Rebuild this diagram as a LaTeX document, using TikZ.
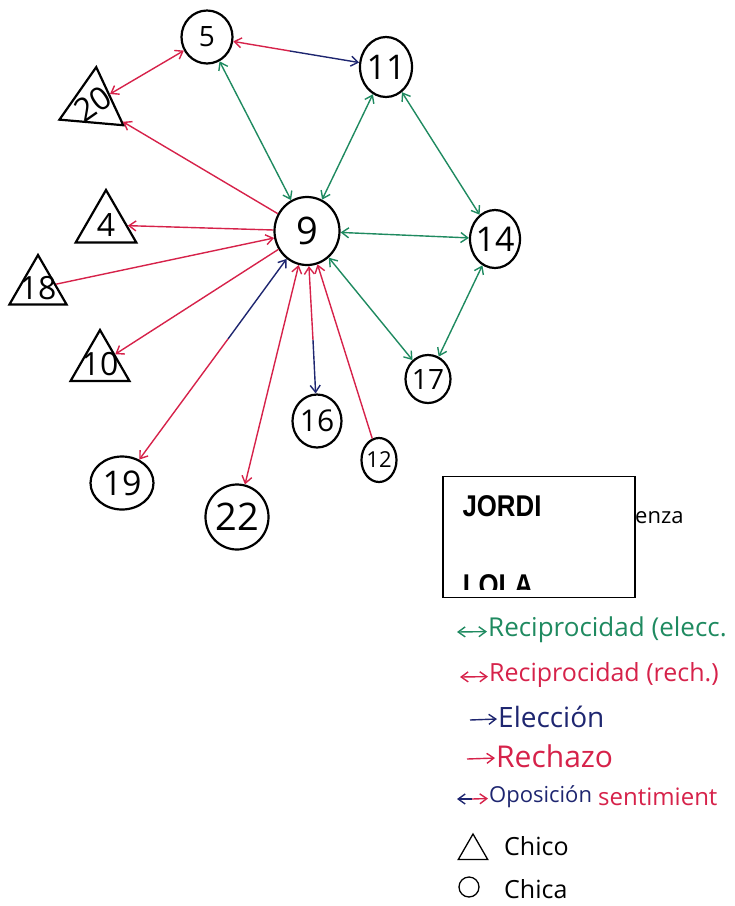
\documentclass[tikz,border=0pt]{standalone}
\usepackage{fontspec}
\setmainfont{Open Sans}
\setsansfont{Liberation Sans}
\usetikzlibrary{arrows.meta,shapes.geometric}

\definecolor{verde}{RGB}{31,138,96}
\definecolor{rojo}{RGB}{214,34,74}
\definecolor{azul}{RGB}{30,38,112}

\newcommand{\fs}[1]{\fontsize{#1}{#1}\selectfont}

\tikzset{
  chica/.style={draw, ellipse, line width=2.2pt, inner sep=-3pt, font=\fs{34}},
  chico/.style={draw, regular polygon, regular polygon sides=3, line width=2.2pt,
    inner sep=-10pt, font=\fs{32}},
  recel/.style={verde, line width=1.4pt, <->},
  recre/.style={rojo, line width=1.4pt, <->},
  elec/.style={azul, line width=1.4pt, ->},
  rech/.style={rojo, line width=1.4pt, ->},
  leyenda/.style={anchor=west, inner sep=1pt},
  nombre/.style={font=\sffamily\bfseries\fs{30}, inner sep=0pt}
}

\begin{document}
\begin{tikzpicture}[x=1pt, y=-1pt, >={Straight Barb[length=7pt,width=10pt]}]
\useasboundingbox (0,0) rectangle (735,906);

% chicas
\node[chica, minimum width=51, minimum height=53, font=\fs{28}] (n5) at (207,37) {5};
\node[chica, minimum width=52, minimum height=60] (n11) at (386,67) {11};
\node[chica, minimum width=65, minimum height=68, font=\fs{38}] (n9) at (307,231) {9};
\node[chica, minimum width=50, minimum height=58] (n14) at (495,239) {14};
\node[chica, minimum width=45, minimum height=48, font=\fs{28}] (n17) at (428,379) {17};
\node[chica, minimum width=49, minimum height=53, font=\fs{30}] (n16) at (317,421) {16};
\node[chica, minimum width=35, minimum height=44, font=\fs{22}] (n12) at (379,460) {12};
\node[chica, minimum width=63, minimum height=53] (n19) at (122,483) {19};
\node[chica, minimum width=63, minimum height=65, font=\fs{38}] (n22) at (237,517) {22};

% chicos
\node[chico, minimum size=74, shape border rotate=-5] (n20) at (93,104) {\rotatebox{35}{20}};
\node[chico, minimum size=70] (n4) at (106,225) {4};
\node[chico, minimum size=66] (n18) at (38,288) {18};
\node[chico, minimum size=68] (n10) at (100,364) {10};

% elecciones reciprocas
\draw[recel] (n9) -- (n5);
\draw[recel] (n9) -- (n11);
\draw[recel] (n11) -- (n14);
\draw[recel] (n9) -- (n14);
\draw[recel] (n14) -- (n17);
\draw[recel] (n9) -- (n17);

% rechazos
\draw[recre] (n5) -- (n20);
\draw[recre] (n9) -- (n22);
\draw[rech] (n9) -- (n20);
\draw[rech] (n9) -- (n4);
\draw[rech] (n9) -- (n10);
\draw[rech] (n18) -- (n9);
\draw[rech] (n12) -- (n9);

% oposiciones: mitad roja, mitad azul
\coordinate (c511) at (290,51);
\draw[rech] (c511) -- (n5);
\draw[elec] (c511) -- (n11);
\coordinate (c919) at (228,339);
\draw[elec] (c919) -- (n9);
\draw[rech] (c919) -- (n19);
\coordinate (c916) at (313,340);
\draw[rech] (c916) -- (n9);
\draw[elec] (c916) -- (n16);

% recuadro
\node[leyenda, font=\fs{22}] (tenza) at (634,518) {enza};
\node[draw, fill=white, line width=1.2pt, minimum width=192, minimum height=121] (caja) at (539,537) {};
\node[nombre] (jordi) at (502,506) {\scalebox{0.86}[1]{JORDI}};
\begin{scope}
\clip (caja.north west) rectangle ([yshift=9pt]caja.south east);
\node[nombre] (lola) at (498,585) {\scalebox{0.86}[1]{LOLA}};
\end{scope}

% leyenda
\coordinate (l1) at (457,632);
\node[leyenda, verde, font=\fs{26}] (t1) at (487,630) {Reciprocidad (elecc.};
\draw[recel] (l1) -- (t1);
\coordinate (l2) at (460,677);
\node[leyenda, rojo, font=\fs{25}] (t2) at (488,675) {Reciprocidad (rech.)};
\draw[recre] (l2) -- (t2);
\coordinate (l3) at (470,720);
\node[leyenda, azul, font=\fs{28}] (t3) at (497,717) {Elección};
\draw[elec] (l3) -- (t3);
\coordinate (l4) at (467,759);
\node[leyenda, rojo, font=\fs{30}] (t4) at (495,756) {Rechazo};
\draw[rech] (l4) -- (t4);
\coordinate (l5) at (457,799);
\coordinate (l5m) at (472,799);
\node[leyenda, azul, font=\fs{22}] (t5) at (488,797) {Oposición};
\node[leyenda, rojo, font=\fs{24}] (t5b) at (597,797) {sentimient};
\draw[elec] (l5m) -- (l5);
\draw[rech] (l5m) -- (t5);
\node[chico, minimum size=34, line width=1.3pt] (lchico) at (473,851) {};
\node[leyenda, font=\fs{25}] (tchico) at (503,846) {Chico};
\node[draw, circle, minimum size=20, line width=1.3pt, inner sep=0pt] (lchica) at (469,887) {};
\node[leyenda, font=\fs{25}] (tchica) at (503,889) {Chica};
\end{tikzpicture}
\end{document}
